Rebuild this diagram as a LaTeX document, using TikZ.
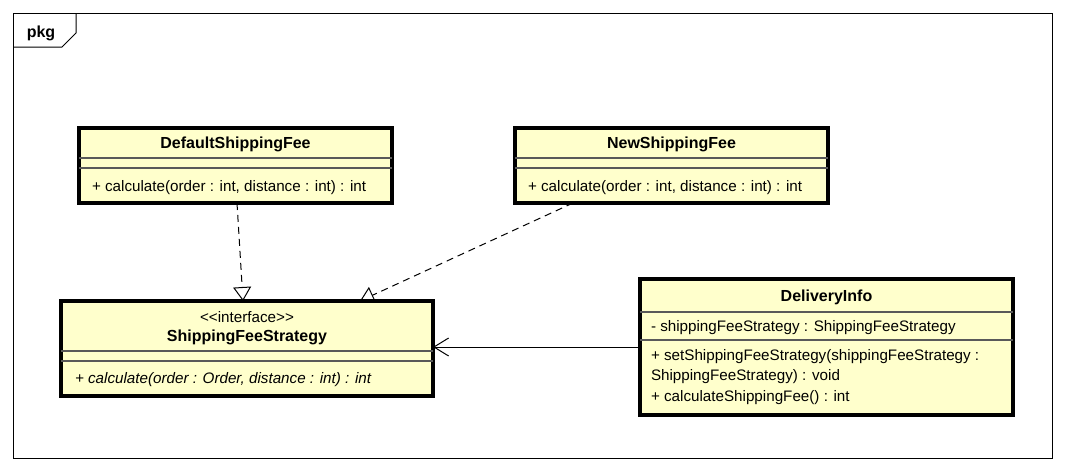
\documentclass[tikz,border=0pt]{standalone}
\usepackage{fontspec}
\setmainfont{Liberation Sans}
\usetikzlibrary{arrows.meta,calc}
\pgfdeclarelayer{background}
\pgfsetlayers{background,main}
\definecolor{clsfill}{HTML}{FFFFCC}
\begin{document}
\begin{tikzpicture}[x=0.75pt,y=-0.75pt,
 every node/.style={inner sep=0pt, outer sep=0pt},
 cls/.style={draw=black, line width=2.3pt, fill=clsfill, rectangle},
 sep/.style={draw=black!65, line width=1pt},
 txt/.style={font=\fontsize{11.4}{13}\selectfont, anchor=base west},
 itxt/.style={font=\fontsize{11.4}{13}\selectfont\itshape, anchor=base west},
 ttl/.style={font=\fontsize{12}{14}\selectfont\bfseries, anchor=base},
 frm/.style={draw=black, line width=0.75pt},
 real/.style={dash pattern=on 5.25pt off 3.75pt, line width=0.75pt, -{Triangle[fill=white, length=10.5pt, width=13.5pt]}},
 nav/.style={line width=0.75pt, -{Straight Barb[length=11pt, width=13.5pt]}}
]
\useasboundingbox (0,0) rectangle (1065,472);
% package frame
\draw[frm] (13,13) rectangle (1052,458);
\draw[frm] (13,47) -- (62,47) -- (76,33) -- (76,13);
\node[ttl] (pkg) at (41,37) {pkg};

% classes
\node[cls, minimum width=234.75pt, minimum height=56.25pt] (def) at (235.5,165.5) {};
\node[cls, minimum width=234.75pt, minimum height=56.25pt] (new) at (671.5,165.5) {};
\node[cls, minimum width=279pt, minimum height=71.25pt] (sfs) at (247,348.5) {};
\node[cls, minimum width=279.75pt, minimum height=102pt] (deliv) at (826.5,347) {};

% separators
\draw[sep] (79,158) -- (392,158);
\draw[sep] (79,168) -- (392,168);
\draw[sep] (515,158) -- (828,158);
\draw[sep] (515,168) -- (828,168);
\draw[sep] (61,351) -- (433,351);
\draw[sep] (61,361) -- (433,361);
\draw[sep] (640,312) -- (1013,312);
\draw[sep] (640,340) -- (1013,340);

% texts
\node[ttl] (defname) at (235.5,148) {DefaultShippingFee};
\node[txt] (defop) at (92,191) {+ calculate(order : int, distance : int) : int};
\node[ttl] (newname) at (671.5,148) {NewShippingFee};
\node[txt] (newop) at (528,191) {+ calculate(order : int, distance : int) : int};
\node[font=\fontsize{11.4}{13}\selectfont, anchor=base] (sfsst) at (247,322) {<{}<interface>{}>};
\node[ttl] (sfsname) at (247,341) {ShippingFeeStrategy};
\node[itxt] (sfsop) at (75,383) {+ calculate(order : Order, distance : int) : int};
\node[ttl] (delname) at (826.5,301) {DeliveryInfo};
\node[txt] (delattr) at (651,331) {- shippingFeeStrategy : ShippingFeeStrategy};
\node[txt] (delop1) at (651,360) {+ setShippingFeeStrategy(shippingFeeStrategy :};
\node[txt] (delop2) at (651,380) {ShippingFeeStrategy) : void};
\node[txt] (delop3) at (651,401) {+ calculateShippingFee() : int};

% connectors
\begin{pgfonlayer}{background}
\draw[real] ($(def.south west)+(158,0)$) -- ($(sfs.north west)+(182,0)$);
\draw[real] ($(new.south west)+(58,0)$) -- ($(sfs.north west)+(299,0)$);
\draw[nav] (deliv.west) -- (sfs.east |- deliv.west);
\end{pgfonlayer}
\end{tikzpicture}
\end{document}
